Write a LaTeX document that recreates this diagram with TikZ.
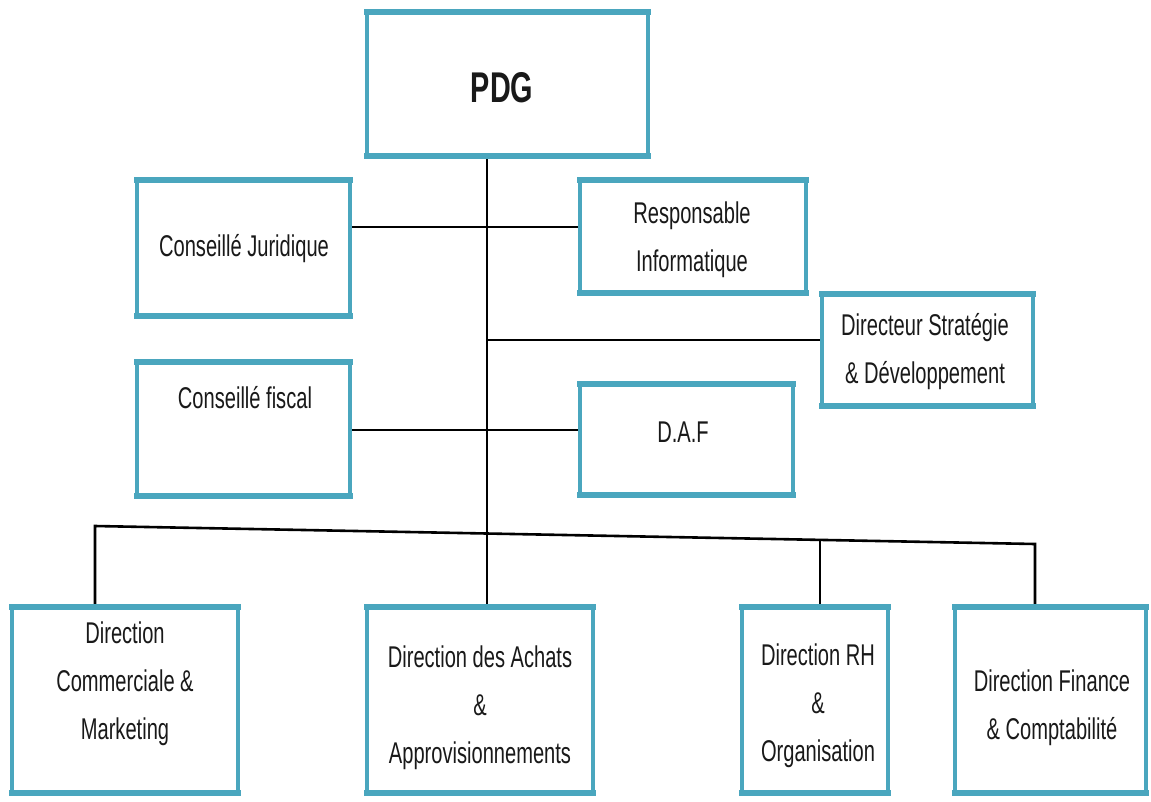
\documentclass[tikz,border=0pt]{standalone}
\usepackage{fontspec}
\setmainfont{Liberation Sans}[FakeStretch=0.67]
\usetikzlibrary{calc}
\definecolor{bord}{RGB}{74,166,190}
\definecolor{txt}{RGB}{25,25,25}
\pgfdeclarelayer{bglayer}
\pgfdeclarelayer{connlayer}
\pgfsetlayers{bglayer,connlayer,main}
\begin{document}
\begin{tikzpicture}[x=1pt,y=-1pt,
  box/.style={draw=bord, line width=4pt, fill=white, inner sep=0pt, outer sep=0pt,
    append after command={(\tikzlastnode.north west) edge[tbline] (\tikzlastnode.north east)
                          (\tikzlastnode.south west) edge[tbline] (\tikzlastnode.south east)}},
  tbline/.style={draw=bord, line width=6.5pt, line cap=rect},
  lbl/.style={align=center, text=txt, font=\fontsize{30}{48}\selectfont, inner sep=0pt},
  conn/.style={draw=black, line width=2.6pt}]
\begin{pgfonlayer}{bglayer}
\fill[white] (0,0) rectangle (1151,801);
\end{pgfonlayer}
\useasboundingbox (0,0) rectangle (1151,801);

% boxes
\node[box, minimum width=281, minimum height=144] (pdg) at (507.5,84) {};
\node[box, minimum width=213, minimum height=136] (cj) at (243.5,248) {};
\node[box, minimum width=226, minimum height=113] (ri) at (693,236.5) {};
\node[box, minimum width=211, minimum height=112] (ds) at (927.5,350) {};
\node[box, minimum width=213, minimum height=134] (cf) at (243.5,429) {};
\node[box, minimum width=213, minimum height=111] (daf) at (686.5,439.5) {};
\node[box, minimum width=226, minimum height=186] (comm) at (125,700) {};
\node[box, minimum width=226, minimum height=186] (ach) at (480,700) {};
\node[box, minimum width=146, minimum height=186] (rh) at (815,700) {};
\node[box, minimum width=191, minimum height=186] (fin) at (1050.5,700) {};

% labels
\node[lbl, font=\bfseries\fontsize{43}{48}\selectfont] (pdg-t) at (502,88) {PDG};
\node[lbl] (cj-t) at (244,249) {Conseillé Juridique};
\node[lbl] (ri-t) at (692,240) {Responsable\\Informatique};
\node[lbl] (ds-t) at (925,352) {Directeur Stratégie\\\& Développement};
\node[lbl] (cf-t) at (245,398) {Conseillé fiscal};
\node[lbl] (daf-t) at (683,432) {D.A.F};
\node[lbl] (comm-t) at (125,684) {Direction\\Commerciale \&\\Marketing};
\node[lbl] (ach-t) at (480,708) {Direction des Achats\\\&\\Approvisionnements};
\node[lbl] (rh-t) at (818,706) {Direction RH\\\&\\Organisation};
\node[lbl] (fin-t) at (1052,708) {Direction Finance\\\& Comptabilité};

% connector coordinates
\coordinate (tr) at (487,0);
\coordinate (ya) at (0,227);
\coordinate (yb) at (0,340);
\coordinate (yc) at (0,430);
\coordinate (busL) at (95,526);
\coordinate (busR) at (1035,544);
\coordinate (busRH) at ($(busL)!0.7713!(busR)$);

\begin{pgfonlayer}{connlayer}
\draw[conn] (pdg.south -| tr) -- (ach.north -| tr);
\draw[conn] (cj.east |- ya) -- (ri.west |- ya);
\draw[conn] (tr |- yb) -- (ds.west |- yb);
\draw[conn] (cf.east |- yc) -- (daf.west |- yc);
\draw[conn] (comm.north -| busL) -- (busL) -- (busR) -- (fin.north -| busR);
\draw[conn] (busRH) -- (rh.north -| busRH);
\end{pgfonlayer}
\end{tikzpicture}
\end{document}
